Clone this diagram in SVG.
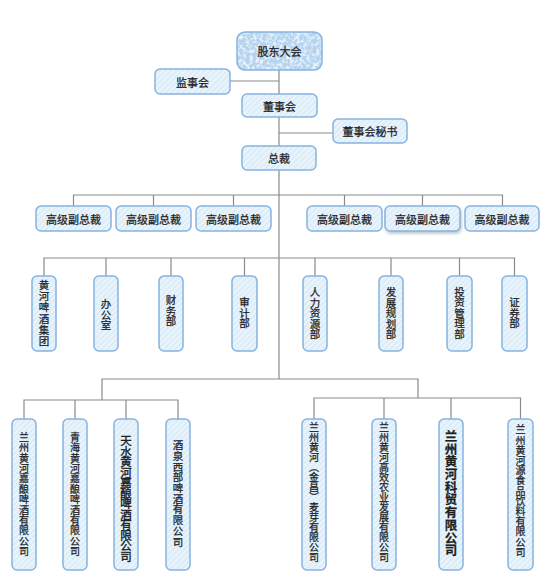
<svg xmlns="http://www.w3.org/2000/svg" width="548" height="586" viewBox="0 0 548 586">
<defs>
<pattern id="hatch" width="4" height="4" patternUnits="userSpaceOnUse" patternTransform="rotate(45)">
<rect width="4" height="4" fill="#dcedf9"/>
<rect width="1.6" height="4" fill="#eef6fc"/>
</pattern>
<filter id="tex" x="0" y="0" width="1" height="1">
<feTurbulence type="fractalNoise" baseFrequency="0.3" numOctaves="3" seed="3" result="n"/>
<feColorMatrix in="n" type="matrix" values="0 0 0 0 0.93  0 0 0 0 0.97  0 0 0 0 1  0 0 0 2.6 -1.1" result="w"/>
<feComposite in="w" in2="SourceGraphic" operator="in" result="s"/>
<feMerge><feMergeNode in="SourceGraphic"/><feMergeNode in="s"/></feMerge>
</filter>
<filter id="shadow" x="-10%" y="-20%" width="130%" height="160%">
<feDropShadow dx="1" dy="2" stdDeviation="1.5" flood-color="#7a8fa5" flood-opacity="0.5"/>
</filter>
</defs>
<style>
.box{fill:url(#hatch);stroke:#86b3e0;stroke-width:1.5}
.ln{fill:none;stroke:#8a8a8a;stroke-width:1.2}
.t{font-family:"Noto Sans CJK SC","Noto Sans CJK JP",sans-serif;font-size:11px;fill:#1e1e1e;stroke:#1e1e1e;stroke-width:0.25px;text-anchor:middle;dominant-baseline:central}
.v{font-family:"Noto Sans CJK SC","Noto Sans CJK JP",sans-serif;font-size:10.5px;fill:#1e1e1e;stroke:#1e1e1e;stroke-width:0.25px;text-anchor:middle;writing-mode:vertical-rl;text-orientation:upright}
</style>
<g id="connectors">
<path class="ln" d="M279 70 V379"/>
<path class="ln" d="M230 81 H279"/>
<path class="ln" d="M279 133 H333"/>
<path class="ln" d="M73.5 206 V195 H502.5 V206 M153.5 195 V206 M233.5 195 V206 M344.5 195 V206 M422.5 195 V206"/>
<path class="ln" d="M44 276 V258 H514.5 V276 M106 258 V276 M171 258 V276 M244.5 258 V276 M315 258 V276 M391 258 V276 M459.5 258 V276"/>
<path class="ln" d="M102 400 V379 H418 V398"/>
<path class="ln" d="M24 419 V400 H178 V419 M75 400 V419 M126 400 V419"/>
<path class="ln" d="M314 419 V398 H520.5 V419 M384 398 V419 M451 398 V419"/>
</g>
<g id="gudong">
<rect x="237" y="32" width="85" height="38" rx="8" fill="#b3d3ef" filter="url(#tex)"/>
<rect x="237" y="32" width="85" height="38" rx="8" fill="none" stroke="#86b3e0" stroke-width="1.5"/>
<text class="t" x="279.5" y="51">股东大会</text>
</g>
<g id="jianshi"><rect class="box" x="155" y="69" width="75" height="25" rx="5"/><text class="t" x="192.5" y="81.5">监事会</text></g>
<g id="dongshi"><rect class="box" x="242" y="94" width="75" height="23" rx="5"/><text class="t" x="279.5" y="105.5">董事会</text></g>
<g id="mishu"><rect class="box" x="333" y="119" width="74" height="24" rx="5"/><text class="t" x="370" y="131">董事会秘书</text></g>
<g id="zongcai"><rect class="box" x="242" y="146" width="74" height="24" rx="5"/><text class="t" x="279" y="158">总裁</text></g>
<g id="vp1"><rect class="box" x="36" y="206" width="75" height="25" rx="5"/><text class="t" x="73.5" y="218.5">高级副总裁</text></g>
<g id="vp2"><rect class="box" x="116" y="206" width="75" height="25" rx="5"/><text class="t" x="153.5" y="218.5">高级副总裁</text></g>
<g id="vp3"><rect class="box" x="196" y="206" width="75" height="25" rx="5"/><text class="t" x="233.5" y="218.5">高级副总裁</text></g>
<g id="vp4"><rect class="box" x="307" y="206" width="75" height="25" rx="5"/><text class="t" x="344.5" y="218.5">高级副总裁</text></g>
<g id="vp5"><rect class="box" x="385" y="206" width="75" height="25" rx="5" filter="url(#shadow)"/><text class="t" x="422.5" y="218.5">高级副总裁</text></g>
<g id="vp6"><rect class="box" x="465" y="206" width="74" height="25" rx="5"/><text class="t" x="502" y="218.5">高级副总裁</text></g>
<g id="d1"><rect class="box" x="32" y="276" width="24" height="75" rx="5"/><text class="v" x="44" y="313.5" style="letter-spacing:0.8px">黄河啤酒集团</text></g>
<g id="d2"><rect class="box" x="94" y="276" width="24" height="75" rx="5"/><text class="v" x="106" y="315">办公室</text></g>
<g id="d3"><rect class="box" x="159" y="276" width="24" height="75" rx="5"/><text class="v" x="171" y="311">财务部</text></g>
<g id="d4"><rect class="box" x="232" y="276" width="25" height="75" rx="5"/><text class="v" x="244.5" y="313">审计部</text></g>
<g id="d5"><rect class="box" x="303" y="276" width="24" height="75" rx="5"/><text class="v" x="315" y="313.5">人力资源部</text></g>
<g id="d6"><rect class="box" x="379" y="276" width="24" height="75" rx="5"/><text class="v" x="391" y="313.5">发展规划部</text></g>
<g id="d7"><rect class="box" x="447" y="276" width="25" height="75" rx="5"/><text class="v" x="459.5" y="313">投资管理部</text></g>
<g id="d8"><rect class="box" x="502" y="276" width="25" height="75" rx="5"/><text class="v" x="514.5" y="313">证券部</text></g>
<g id="c1"><rect class="box" x="12" y="419" width="24" height="151" rx="5"/><text class="v" x="24" y="494.5" style="font-size:10px;letter-spacing:0.4px">兰州黄河嘉酿啤酒有限公司</text></g>
<g id="c2"><rect class="box" x="63" y="419" width="24" height="151" rx="5"/><text class="v" x="75" y="494.5" style="font-size:10px;letter-spacing:0.4px">青海黄河嘉酿啤酒有限公司</text></g>
<g id="c3"><rect class="box" x="114" y="419" width="24" height="151" rx="5"/><text class="v" x="126" y="498" style="font-size:11.5px;letter-spacing:-1px;stroke-width:0.4px">天水黄河嘉酿啤酒有限公司</text></g>
<g id="c4"><rect class="box" x="166" y="419" width="24" height="151" rx="5"/><text class="v" x="178" y="493.5" style="letter-spacing:0.2px">酒泉西部啤酒有限公司</text></g>
<g id="c5"><rect class="box" x="302" y="419" width="24" height="151" rx="5"/><text class="v" x="314" y="492.5" style="font-size:10px">兰州黄河（金昌）麦芽有限公司</text></g>
<g id="c6"><rect class="box" x="372" y="419" width="24" height="151" rx="5"/><text class="v" x="384" y="492.5" style="font-size:10px">兰州黄河高效农业发展有限公司</text></g>
<g id="c7"><rect class="box" x="439" y="419" width="24" height="151" rx="5"/><text class="v" x="451" y="493.5" style="font-size:12.5px;font-weight:bold;letter-spacing:0.2px">兰州黄河科贸有限公司</text></g>
<g id="c8"><rect class="box" x="508" y="419" width="25" height="151" rx="5"/><text class="v" x="520.5" y="491" style="font-size:10px;letter-spacing:0.2px">兰州黄河源食品饮料有限公司</text></g>
</svg>
